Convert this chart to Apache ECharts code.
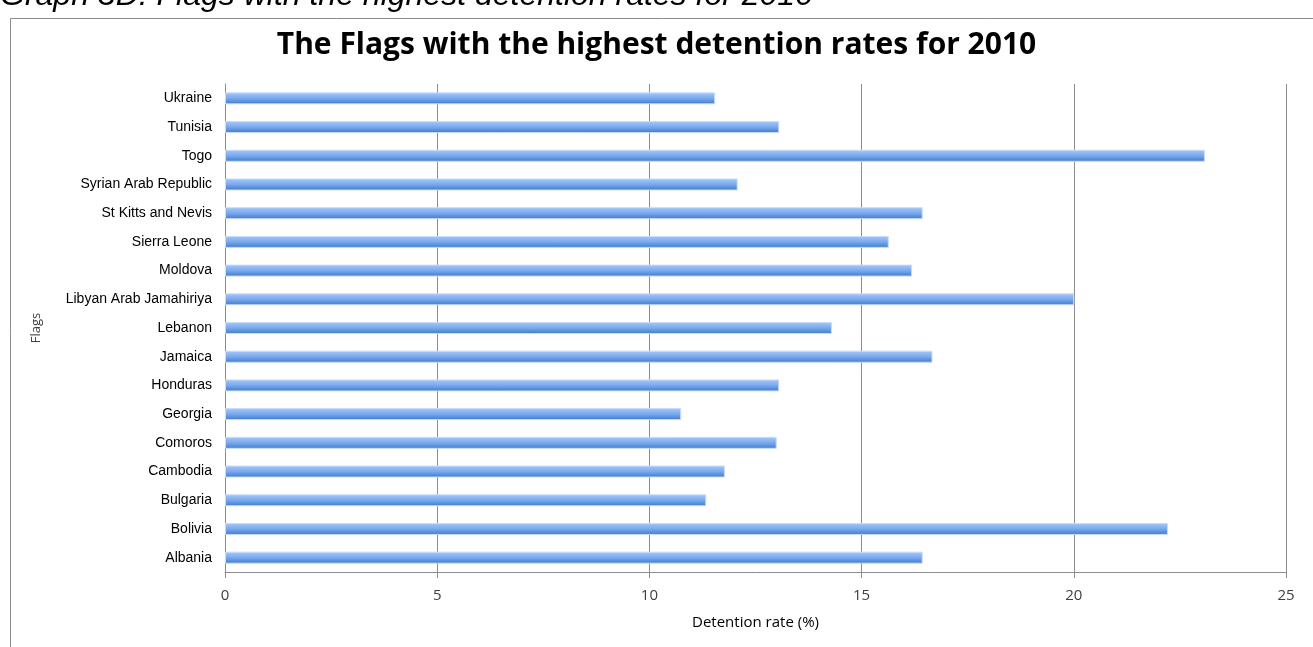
<!DOCTYPE html>
<html>
<head>
<meta charset="utf-8">
<script src="https://cdn.jsdelivr.net/npm/echarts@6/dist/echarts.min.js"></script>
<style>
  html, body { margin: 0; padding: 0; background: #fff; }
  #main { width: 1313px; height: 647px; }
</style>
</head>
<body>
<div id="main"></div>
<script>
// flags, listed bottom to top like the original chart
var flags = ['Albania', 'Bolivia', 'Bulgaria', 'Cambodia', 'Comoros', 'Georgia', 'Honduras',
    'Jamaica', 'Lebanon', 'Libyan Arab Jamahiriya', 'Moldova', 'Sierra Leone',
    'St Kitts and Nevis', 'Syrian Arab Republic', 'Togo', 'Tunisia', 'Ukraine'];
// detention rate (%)
var rates = [16.44, 22.22, 11.34, 11.78, 13.0, 10.75, 13.06,
    16.67, 14.3, 20.01, 16.19, 15.64,
    16.44, 12.08, 23.09, 13.06, 11.55];
var xTicks = [0, 5, 10, 15, 20, 25];

var mychart = echarts.init(document.getElementById('main'));
var option = {
    animation: false,
    backgroundColor: '#fff',
    title: {
        text: 'The Flags with the highest detention rates for 2010',
        left: 'center',
        top: 25,
        textStyle: {
            fontFamily: 'Open Sans',
            fontWeight: 'bold',
            fontSize: 30,
            color: '#000'
        }
    },
    graphic: [
        {
            // caption above the chart box, cut off by the top edge
            type: 'text',
            style: {
                x: 0,
                y: 12,
                text: 'Graph 3D: Flags with the highest detention rates for 2010',
                font: 'italic 32px "Liberation Sans"',
                fill: '#000',
                verticalAlign: 'bottom'
            }
        },
        {
            type: 'rect',
            shape: { x: 10.5, y: 18.5, width: 1310, height: 640 },
            style: { fill: 'none', stroke: '#8c8c8c', lineWidth: 1 },
            silent: true
        }
    ],
    grid: {
        left: 225,
        right: 27,
        top: 84,
        bottom: 75
    },
    xAxis: {
        type: 'value',
        min: 0,
        max: 25,
        interval: 5,
        name: 'Detention rate (%)',
        nameLocation: 'middle',
        nameGap: 43,
        nameTextStyle: { fontFamily: 'Open Sans', fontSize: 15, color: '#000' },
        axisLine: { show: true, lineStyle: { color: '#8c8c8c', width: 1 } },
        axisTick: { show: true, length: 6, lineStyle: { color: '#8c8c8c' } },
        axisLabel: {
            margin: 16,
            fontFamily: 'Open Sans',
            fontSize: 15,
            color: '#404040',
            formatter: function(v) { return xTicks.indexOf(v) >= 0 ? String(v) : ''; }
        },
        splitLine: { show: true, lineStyle: { color: '#8c8c8c', width: 1 } }
    },
    yAxis: {
        type: 'category',
        data: flags,
        name: 'Flags',
        nameLocation: 'middle',
        nameGap: 182,
        nameRotate: 90,
        nameTextStyle: { fontFamily: 'Open Sans', fontSize: 13, color: '#404040' },
        axisLine: { show: true, lineStyle: { color: '#8c8c8c', width: 1 } },
        axisTick: { show: false },
        axisLabel: {
            margin: 13,
            fontFamily: 'Liberation Sans',
            fontSize: 14,
            color: '#000'
        },
        splitLine: { show: false }
    },
    series: [{
        name: 'Detention rate',
        type: 'bar',
        data: rates,
        barWidth: 12,
        itemStyle: {
            borderColor: '#c8ddfb',
            borderWidth: 1,
            color: new echarts.graphic.LinearGradient(0, 0, 0, 1, [{
                offset: 0,
                color: '#a6c9fb'
            }, {
                offset: 0.5,
                color: '#7aa9ec'
            }, {
                offset: 1,
                color: '#3d79cc'
            }])
        }
    }]
};
mychart.setOption(option);
</script>
</body>
</html>
